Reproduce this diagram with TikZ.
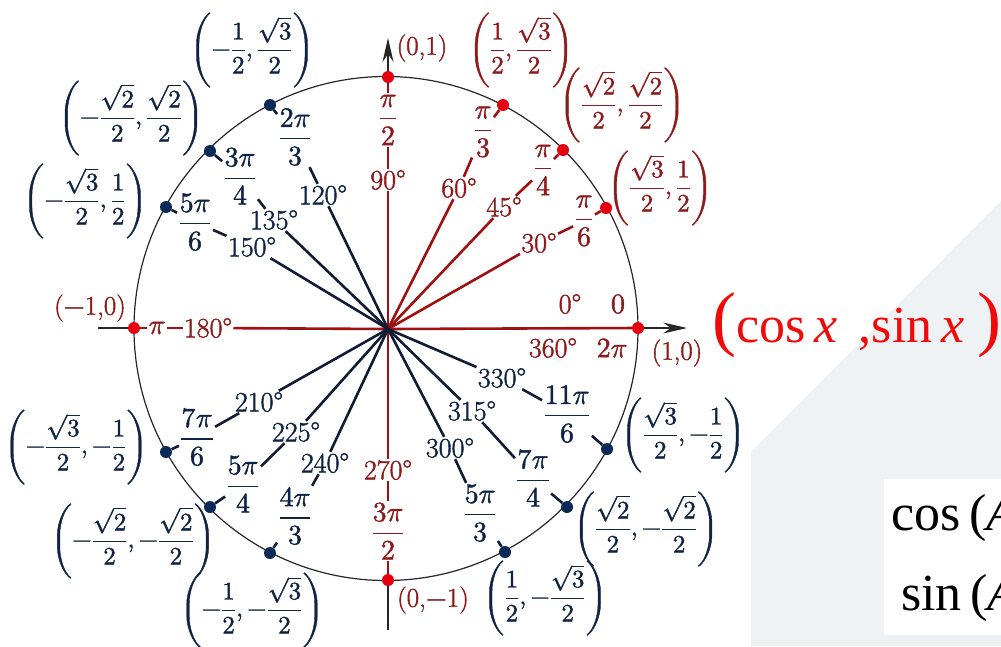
\documentclass[tikz,border=0pt]{standalone}
\usepackage{fontspec}
\usepackage{unicode-math}
\setmainfont{Latin Modern Roman}[FakeBold=1.5]
\setmathfont{Latin Modern Math}[FakeBold=1.5]
\newfontfamily\timesfont{Liberation Serif}
\usetikzlibrary{arrows.meta}
\definecolor{dred}{HTML}{8E1B1B}
\definecolor{rayred}{HTML}{A01010}
\definecolor{navy}{HTML}{0F2444}
\definecolor{raynavy}{HTML}{101C33}
\definecolor{dotred}{HTML}{E5000F}
\definecolor{dotnavy}{HTML}{0B2A57}
\definecolor{bggray}{HTML}{EFF2F5}
\definecolor{bigred}{HTML}{F00A0A}
\begin{document}
\begin{tikzpicture}[x=1pt,y=-1pt,
  lab/.style={inner sep=1.2pt, font=\fontsize{28}{32}\selectfont},
  redlab/.style={lab,text=dred},
  navylab/.style={lab,text=navy},
  crd/.style={inner sep=0pt, font=\fontsize{25}{30}\selectfont},
  crdred/.style={crd,text=dred},
  crdnavy/.style={crd,text=navy},
  smallcrd/.style={inner sep=0pt, text=dred, font=\fontsize{27}{30}\selectfont},
  rdot/.style={circle, fill=dotred, minimum size=12pt, inner sep=0pt},
  ndot/.style={circle, fill=dotnavy, minimum size=12pt, inner sep=0pt},
  rray/.style={draw=rayred, line width=2.6pt},
  nray/.style={draw=raynavy, line width=2.6pt},
  axisline/.style={draw=black!85, line width=1.3pt},
  arrowline/.style={axisline, -{Stealth[length=24pt,width=11pt,inset=8pt]}},
  bigtext/.style={inner sep=0pt, anchor=base west, font=\timesfont\fontsize{52}{56}\selectfont},
]
\useasboundingbox (0,0) rectangle (1001,646);
\clip (0,0) rectangle (1001,646);
% background
\fill[bggray] (751,646) -- (751,452) -- (1001,201) -- (1001,646) -- cycle;
\fill[white] (884,479) rectangle (1001,635);
\node[bigtext] (cosA) at (891,530) {cos\,(\textit{A}};
\node[bigtext] (sinA) at (901,610) {sin\,(\textit{A}};
% circle
\draw[line width=1.2pt, black!85] (386,328.5) circle[radius=252];
\coordinate (C) at (388,329);
% dots
\node[rdot] (p0) at (638,328) {};
\node[rdot] (p30) at (606,208) {};
\node[rdot] (p45) at (563,150) {};
\node[rdot] (p60) at (503,105) {};
\node[rdot] (p90) at (388,77) {};
\node[ndot] (p120) at (270,105) {};
\node[ndot] (p135) at (210,151) {};
\node[ndot] (p150) at (166,207) {};
\node[rdot] (p180) at (134,328) {};
\node[ndot] (p210) at (166,452) {};
\node[ndot] (p225) at (210,507) {};
\node[ndot] (p240) at (270,553) {};
\node[rdot] (p270) at (388,580) {};
\node[ndot] (p300) at (505,552) {};
\node[ndot] (p315) at (567,507) {};
\node[ndot] (p330) at (607,449) {};
% axes outside circle
\coordinate (axL) at (98,328);
\coordinate (axR) at (687,328);
\coordinate (axT) at (388,38);
\coordinate (axB) at (388,630);
\draw[axisline] (axL) -- (p180);
\draw[axisline] (p270) -- (axB);
\draw[arrowline] (p0) -- (axR);
\draw[arrowline] (p90) -- (axT);
% angle labels, first quadrant and axes
\node[redlab] (d0) at (570,304) {0°};
\node[redlab] (r0) at (618,304) {$0$};
\node[redlab] (d360) at (553,348) {360°};
\node[redlab] (r360) at (612,348) {$2\pi$};
\node[redlab] (d30) at (539,243) {30°};
\node[redlab] (r30) at (584,221) {$\dfrac{\pi}{6}$};
\node[redlab] (d45) at (504,207) {45°};
\node[redlab] (r45) at (543,170) {$\dfrac{\pi}{4}$};
\node[redlab] (d60) at (459,188) {60°};
\node[redlab] (r60) at (483,132) {$\dfrac{\pi}{3}$};
\node[redlab] (d90) at (388,180) {90°};
\node[redlab] (r90) at (388,120) {$\dfrac{\pi}{2}$};
\node[redlab] (d180) at (208,328) {180°};
\node[redlab] (r180) at (157,328) {$\pi$};
\node[redlab] (d270) at (388,470) {270°};
\node[redlab] (r270) at (388,531) {$\dfrac{3\pi}{2}$};
% navy labels
\node[navylab] (d120) at (323,195) {120°};
\node[navylab] (r120) at (295,137) {$\dfrac{2\pi}{3}$};
\node[navylab] (d135) at (274,220) {135°};
\node[navylab] (r135) at (240,176) {$\dfrac{3\pi}{4}$};
\node[navylab] (d150) at (252,247) {150°};
\node[navylab] (r150) at (195,222) {$\dfrac{5\pi}{6}$};
\node[navylab] (d210) at (259,402) {210°};
\node[navylab] (r210) at (197,437) {$\dfrac{7\pi}{6}$};
\node[navylab] (d225) at (296,432) {225°};
\node[navylab] (r225) at (243,484) {$\dfrac{5\pi}{4}$};
\node[navylab] (d240) at (325,463) {240°};
\node[navylab] (r240) at (295,516) {$\dfrac{4\pi}{3}$};
\node[navylab] (d300) at (450,448) {300°};
\node[navylab] (r300) at (480,513) {$\dfrac{5\pi}{3}$};
\node[navylab] (d315) at (472,411) {315°};
\node[navylab] (r315) at (533,478) {$\dfrac{7\pi}{4}$};
\node[navylab] (d330) at (502,378) {330°};
\node[navylab] (r330) at (567,414) {$\dfrac{11\pi}{6}$};
% rays
\draw[rray] (C) -- (p0);
\foreach \a in {30,45,60,90,180,270}{
  \draw[rray] (C) -- (d\a);
  \draw[rray] (d\a) -- (r\a);
  \draw[rray] (r\a) -- (p\a);
}
\foreach \a in {120,135,150,210,225,240,300,315,330}{
  \draw[nray] (C) -- (d\a);
  \draw[nray] (d\a) -- (r\a);
  \draw[nray] (r\a) -- (p\a);
}
% coordinates
\node[smallcrd] (c0) at (677,353) {(1,0)};
\node[crdred] (c30) at (660,188) {$\left(\dfrac{\sqrt{3}}{2},\dfrac{1}{2}\right)$};
\node[crdred] (c45) at (622,105) {$\left(\dfrac{\sqrt{2}}{2},\dfrac{\sqrt{2}}{2}\right)$};
\node[crdred] (c60) at (521,50) {$\left(\dfrac{1}{2},\dfrac{\sqrt{3}}{2}\right)$};
\node[smallcrd] (c90) at (422,48) {(0,1)};
\node[crdnavy] (c120) at (252,50) {$\left(-\dfrac{1}{2},\dfrac{\sqrt{3}}{2}\right)$};
\node[crdnavy] (c135) at (131,118) {$\left(-\dfrac{\sqrt{2}}{2},\dfrac{\sqrt{2}}{2}\right)$};
\node[crdnavy] (c150) at (85,201) {$\left(-\dfrac{\sqrt{3}}{2},\dfrac{1}{2}\right)$};
\node[smallcrd] (c180) at (90,308) {($-$1,0)};
\node[crdnavy] (c210) at (76,447) {$\left(-\dfrac{\sqrt{3}}{2},-\dfrac{1}{2}\right)$};
\node[crdnavy] (c225) at (133,541) {$\left(-\dfrac{\sqrt{2}}{2},-\dfrac{\sqrt{2}}{2}\right)$};
\node[crdnavy] (c240) at (252,610) {$\left(-\dfrac{1}{2},-\dfrac{\sqrt{3}}{2}\right)$};
\node[smallcrd] (c270) at (433,600) {(0,$-$1)};
\node[crdnavy] (c300) at (545,598) {$\left(\dfrac{1}{2},-\dfrac{\sqrt{3}}{2}\right)$};
\node[crdnavy] (c315) at (646,529) {$\left(\dfrac{\sqrt{2}}{2},-\dfrac{\sqrt{2}}{2}\right)$};
\node[crdnavy] (c330) at (683,435) {$\left(\dfrac{\sqrt{3}}{2},-\dfrac{1}{2}\right)$};
% big red label
\node[bigtext, text=bigred] (cs) at (712,342) {{\fontsize{72}{72}\selectfont(}cos\,\textit{x}\ \,,sin\,\textit{x}\ {\fontsize{72}{72}\selectfont)}};
\end{tikzpicture}
\end{document}
